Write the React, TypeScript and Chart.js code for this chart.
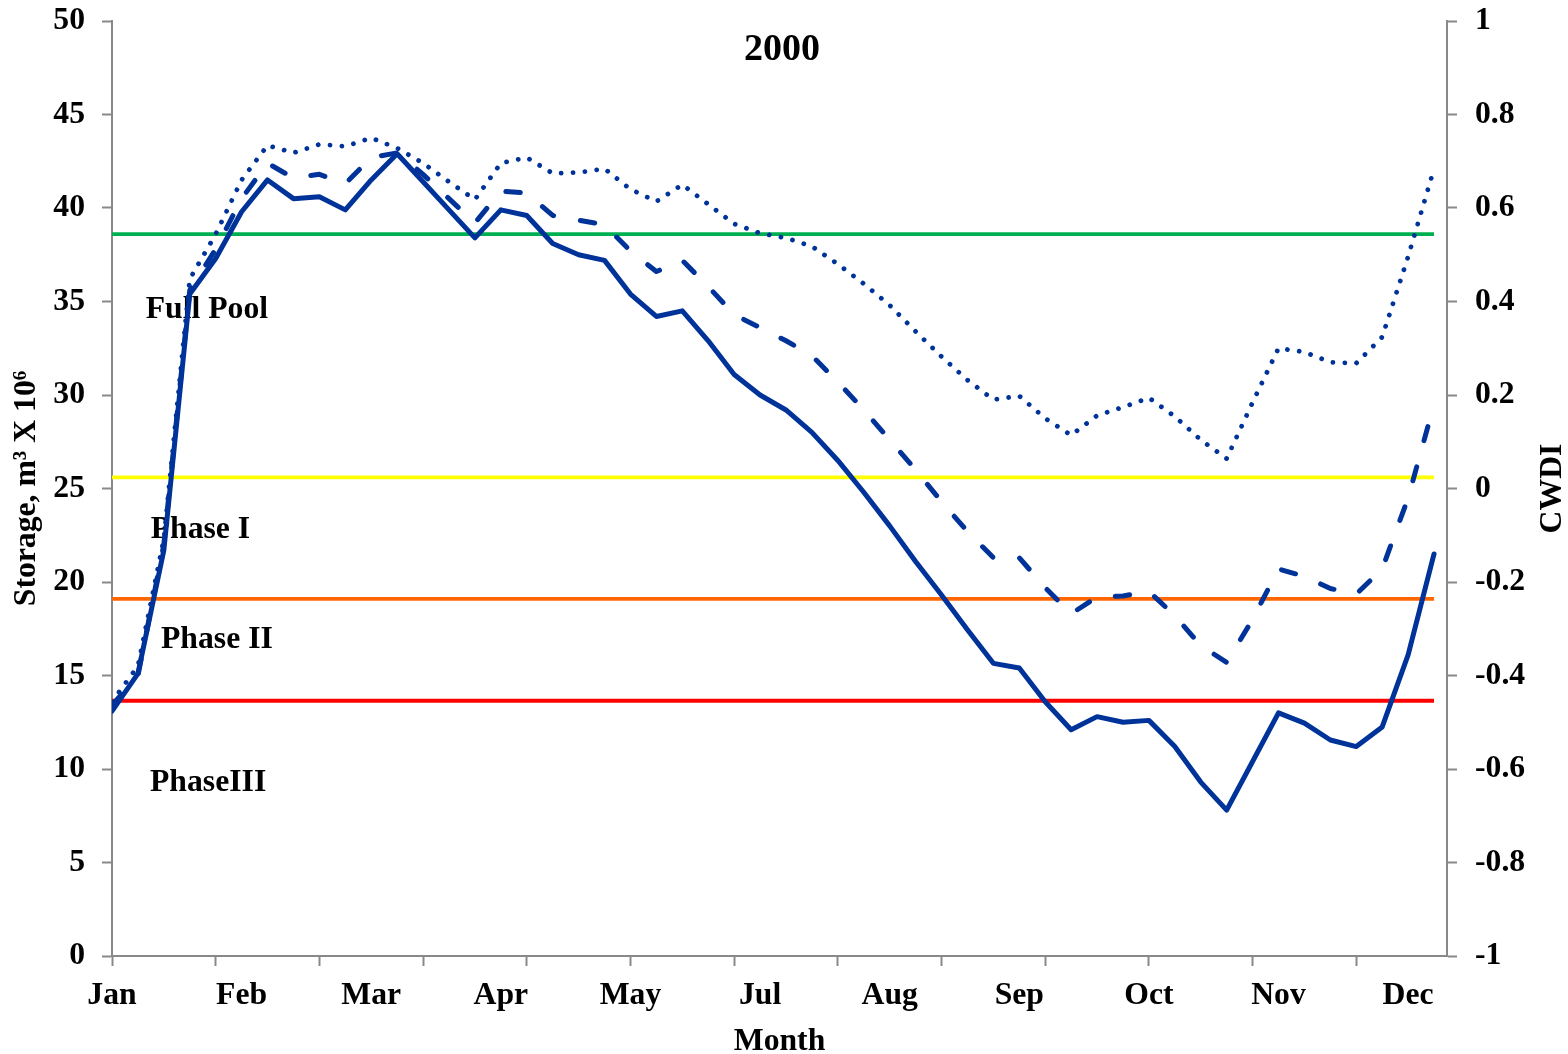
import React, { useEffect, useRef } from 'react';
import { Chart, registerables } from 'chart.js';

Chart.register(...registerables);

// ---------- data ----------
const chartTitle = '2000';
const xAxisTitle = 'Month';
const leftAxisTitle = 'Storage, m³ X 10⁶';
const rightAxisTitle = 'CWDI';

// labels shown every 5 weeks (week index 0, 5, 10, ...)
const monthTickLabels = ['Jan', 'Feb', 'Mar', 'Apr', 'May', 'Jul', 'Aug', 'Sep', 'Oct', 'Nov', 'Dec'];

// weekly storage (m3 x 10^6), week 0..51
const storageSolid = [
  13.1, 15.1, 21.7, 35.4, 37.3, 39.8, 41.5, 40.5, 40.6, 39.9,
  41.5, 42.9, 41.4, 39.9, 38.4, 39.9, 39.6, 38.1, 37.5, 37.2,
  35.4, 34.2, 34.5, 32.9, 31.1, 30.0, 29.2, 28.0, 26.5, 24.8,
  23.0, 21.1, 19.3, 17.45, 15.65, 15.4, 13.6, 12.1, 12.8, 12.5,
  12.6, 11.2, 9.3, 7.8, 10.4, 13.0, 12.45, 11.55, 11.2, 12.25,
  16.1, 21.5,
];
const storageDashed = [
  13.4, 15.0, 22.0, 35.6, 37.8, 40.5, 42.4, 41.6, 41.8, 41.3,
  42.7, 42.95, 41.8, 40.5, 39.2, 40.9, 40.8, 39.6, 39.35, 39.1,
  37.7, 36.6, 37.2, 35.8, 34.3, 33.6, 32.9, 32.1, 30.7, 29.2,
  27.6, 26.0, 24.3, 22.7, 21.3, 21.3, 19.7, 18.3, 19.2, 19.25,
  19.5, 18.2, 16.6, 15.7, 18.0, 20.7, 20.3, 19.65, 19.35, 20.7,
  24.5, 29.5,
];
const storageDotted = [
  13.6, 15.5, 22.3, 36.2, 38.6, 41.5, 43.35, 42.95, 43.4, 43.3,
  43.75, 43.2, 42.4, 41.4, 40.45, 42.4, 42.7, 41.85, 41.9, 42.1,
  41.0, 40.35, 41.25, 40.2, 39.15, 38.65, 38.4, 37.95, 37.0, 35.95,
  34.8, 33.4, 32.05, 30.8, 29.75, 29.95, 28.75, 27.85, 28.9, 29.35,
  29.85, 28.85, 27.6, 26.6, 29.6, 32.5, 32.3, 31.75, 31.7, 33.1,
  37.4, 42.1,
];

// threshold storage levels
const phaseNames = ['Full Pool', 'Phase I', 'Phase II', 'PhaseIII'];
const thresholdValues = [38.6, 25.6, 19.1, 13.65];
const firstWeek = 0;
const lastWeek = 51;

// ---------- styles ----------
const BLUE = '#003399';
const AXIS_GRAY = '#898989';
const FONT_FAMILY = '"Liberation Serif", "Times New Roman", serif';
const thresholdColors = ['#00B050', '#FFFF00', '#FF6600', '#FF0000'];

const tickFont = { family: FONT_FAMILY, size: 31.7, weight: 'bold' as const, lineHeight: 1 };

const overlayPlugin = {
  id: 'overlayText',
  beforeDatasetsDraw(chart: any) {
    const { ctx, chartArea, scales } = chart;
    const y = scales.y;
    // label anchors: [offset from left edge of plot (px), storage value at text baseline]
    const anchors: [number, number][] = [
      [33.7, 34.1],
      [38.7, 22.34],
      [49, 16.49],
      [38, 8.82],
    ];
    ctx.save();
    ctx.fillStyle = '#000';
    ctx.font = `bold 31.7px ${FONT_FAMILY}`;
    ctx.textAlign = 'left';
    ctx.textBaseline = 'alphabetic';
    phaseNames.forEach((name, i) => {
      ctx.fillText(name, chartArea.left + anchors[i][0], y.getPixelForValue(anchors[i][1]));
    });
    ctx.restore();
  },
  afterDraw(chart: any) {
    const { ctx, chartArea } = chart;
    ctx.save();
    ctx.fillStyle = '#000';
    // chart title inside plot
    ctx.font = `bold 38px ${FONT_FAMILY}`;
    ctx.textAlign = 'center';
    ctx.textBaseline = 'alphabetic';
    ctx.fillText(chartTitle, (chartArea.left + chartArea.right) / 2 + 2.5, chartArea.top + 39);
    // right axis title, reading bottom to top
    ctx.font = `bold 31.7px ${FONT_FAMILY}`;
    ctx.translate(chartArea.right + 105.5, (chartArea.top + chartArea.bottom) / 2);
    ctx.rotate(-Math.PI / 2);
    ctx.textAlign = 'center';
    ctx.textBaseline = 'middle';
    ctx.fillText(rightAxisTitle, 0, 0);
    ctx.restore();
  },
};

export default function App() {
  const canvasRef = useRef<HTMLCanvasElement | null>(null);

  useEffect(() => {
    const canvas = canvasRef.current;
    if (!canvas) return;

    const toPoints = (arr: number[]) => arr.map((v, i) => ({ x: i, y: v }));
    const tickValues: number[] = [];
    for (let w = firstWeek; w <= lastWeek; w++) {
      if (w % 4 === 0 || w % 5 === 0) tickValues.push(w);
    }

    const thresholdDatasets = thresholdValues.map((v, i) => ({
      label: phaseNames[i],
      data: [
        { x: firstWeek, y: v },
        { x: lastWeek, y: v },
      ],
      borderColor: thresholdColors[i],
      backgroundColor: thresholdColors[i],
      borderWidth: 3.8,
      pointRadius: 0,
      yAxisID: 'y',
      borderCapStyle: 'butt' as const,
    }));

    const chart = new Chart(canvas, {
      type: 'line',
      data: {
        datasets: [
          {
            label: 'Storage (solid)',
            data: toPoints(storageSolid),
            borderColor: BLUE,
            backgroundColor: BLUE,
            borderWidth: 5,
            pointRadius: 0,
            tension: 0,
            yAxisID: 'y',
            borderJoinStyle: 'round',
            borderCapStyle: 'round',
          },
          {
            label: 'Storage (dashed)',
            data: toPoints(storageDashed),
            borderColor: BLUE,
            backgroundColor: BLUE,
            borderWidth: 5,
            borderDash: [14.5, 27.2],
            pointRadius: 0,
            tension: 0,
            yAxisID: 'y',
            borderJoinStyle: 'round',
            borderCapStyle: 'round',
          },
          {
            label: 'Storage (dotted)',
            data: toPoints(storageDotted),
            borderColor: BLUE,
            backgroundColor: BLUE,
            borderWidth: 4.8,
            borderDash: [0.01, 11.9],
            pointRadius: 0,
            tension: 0,
            yAxisID: 'y',
            borderJoinStyle: 'round',
            borderCapStyle: 'round',
          },
          ...thresholdDatasets,
        ],
      },
      options: {
        responsive: false,
        animation: false,
        devicePixelRatio: 1,
        layout: { padding: { top: 21, left: 0, right: 0, bottom: 0 } },
        plugins: {
          legend: { display: false },
          tooltip: { enabled: false },
          title: { display: false },
        },
        scales: {
          x: {
            type: 'linear',
            position: 'bottom',
            min: 0,
            max: 51.5,
            afterBuildTicks: (scale: any) => {
              scale.ticks = tickValues.map((v) => ({ value: v }));
            },
            afterFit: (scale: any) => {
              scale.height = 98;
              scale.paddingLeft = 0;
              scale.paddingRight = 0;
            },
            ticks: {
              autoSkip: false,
              maxRotation: 0,
              minRotation: 0,
              padding: 14,
              color: '#000',
              font: tickFont,
              callback: (value: any) => {
                const v = Number(value);
                return v % 5 === 0 ? monthTickLabels[v / 5] ?? '' : '';
              },
            },
            grid: {
              display: true,
              drawOnChartArea: false,
              drawTicks: true,
              tickLength: 10,
              tickWidth: 2,
              tickColor: (ctx: any) =>
                ctx.tick && ctx.tick.value % 4 === 0 ? AXIS_GRAY : 'rgba(0,0,0,0)',
            },
            border: { display: true, color: AXIS_GRAY, width: 2 },
            title: {
              display: true,
              text: xAxisTitle,
              color: '#000',
              font: tickFont,
              padding: { top: 0, bottom: -4 },
            },
          },
          y: {
            type: 'linear',
            position: 'left',
            min: 0,
            max: 50,
            afterFit: (scale: any) => {
              scale.width = 112;
              scale.paddingTop = 0;
              scale.paddingBottom = 0;
            },
            ticks: {
              stepSize: 5,
              padding: 17,
              color: '#000',
              font: tickFont,
            },
            grid: {
              display: true,
              drawOnChartArea: false,
              drawTicks: true,
              tickLength: 10,
              tickWidth: 2,
              tickColor: AXIS_GRAY,
            },
            border: { display: true, color: AXIS_GRAY, width: 2 },
            title: {
              display: true,
              text: leftAxisTitle,
              color: '#000',
              font: tickFont,
              padding: { top: 11, bottom: 0 },
            },
          },
          y1: {
            type: 'linear',
            position: 'right',
            display: true,
            min: -1,
            max: 1,
            afterFit: (scale: any) => {
              scale.width = 121;
              scale.paddingTop = 0;
              scale.paddingBottom = 0;
            },
            ticks: {
              stepSize: 0.2,
              padding: 18,
              color: '#000',
              font: tickFont,
              callback: (value: any) => String(Math.round(Number(value) * 10) / 10),
            },
            grid: {
              display: true,
              drawOnChartArea: false,
              drawTicks: true,
              tickLength: 10,
              tickWidth: 2,
              tickColor: AXIS_GRAY,
            },
            border: { display: true, color: AXIS_GRAY, width: 2 },
            title: { display: false },
          },
        },
      },
      plugins: [overlayPlugin],
    } as any);

    return () => {
      chart.destroy();
    };
  }, []);

  return (
    <div
      style={{
        position: 'fixed',
        left: 0,
        top: 0,
        width: 1568,
        height: 1054,
        background: '#ffffff',
      }}
    >
      <canvas ref={canvasRef} width={1568} height={1054} style={{ display: 'block' }} />
    </div>
  );
}
